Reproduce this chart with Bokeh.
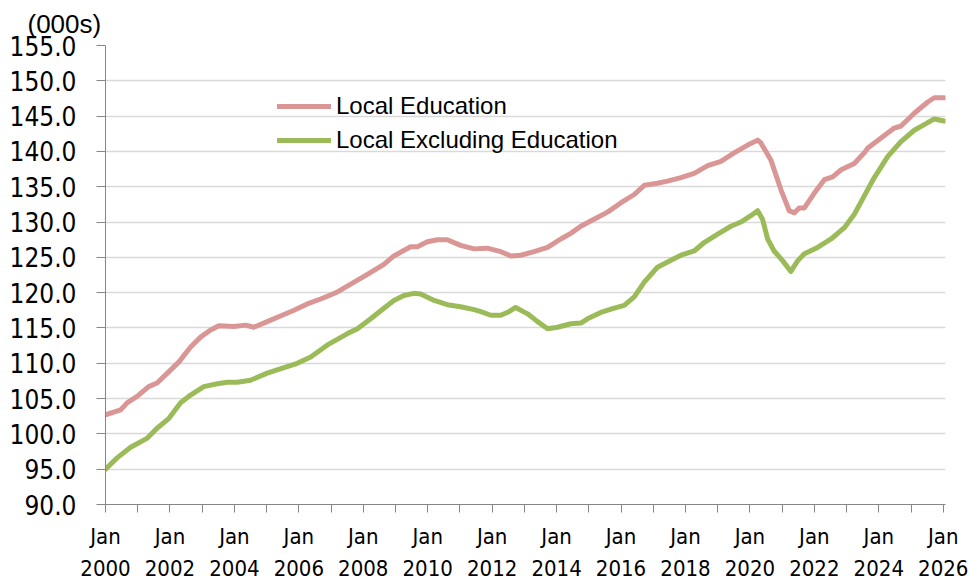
from bokeh.plotting import figure
from bokeh.models import (FixedTicker, Range1d, Legend, LegendItem, Title,
                          PrintfTickFormatter)
from bokeh.embed import file_html
from bokeh.resources import INLINE

# ---- data (decimal years, thousands) ----
edu_years = [2000.0, 2000.47, 2000.67, 2000.98, 2001.34, 2001.6, 2001.92, 2002.28, 2002.64, 2002.95,
             2003.26, 2003.52, 2003.98, 2004.35, 2004.6, 2005.02, 2005.43, 2005.85, 2006.26, 2006.68,
             2007.2, 2007.61, 2008.13, 2008.64, 2008.95, 2009.47, 2009.68, 2009.99, 2010.3, 2010.61,
             2011.02, 2011.44, 2011.85, 2012.27, 2012.58, 2012.89, 2013.3, 2013.72, 2014.13, 2014.44,
             2014.75, 2015.16, 2015.58, 2015.99, 2016.41, 2016.72, 2017.13, 2017.44, 2017.86, 2018.27,
             2018.69, 2019.1, 2019.51, 2019.93, 2020.24, 2020.34, 2020.65, 2020.96, 2021.22, 2021.38,
             2021.53, 2021.69, 2022.0, 2022.31, 2022.57, 2022.83, 2023.24, 2023.55, 2023.66, 2024.07,
             2024.48, 2024.69, 2025.1, 2025.52, 2025.72, 2026.03]
edu_values = [102.7, 103.4, 104.4, 105.3, 106.7, 107.2, 108.6, 110.2, 112.3, 113.7,
              114.7, 115.3, 115.2, 115.4, 115.1, 115.9, 116.7, 117.5, 118.4, 119.1,
              120.1, 121.2, 122.6, 124.0, 125.2, 126.5, 126.5, 127.2, 127.5, 127.5,
              126.7, 126.2, 126.3, 125.8, 125.2, 125.3, 125.8, 126.4, 127.6, 128.4,
              129.4, 130.4, 131.4, 132.7, 133.9, 135.2, 135.5, 135.8, 136.3, 136.9,
              138.0, 138.6, 139.8, 140.9, 141.6, 141.2, 138.8, 134.6, 131.6, 131.3,
              132.0, 132.0, 134.1, 136.0, 136.4, 137.4, 138.3, 139.8, 140.5, 141.9,
              143.3, 143.6, 145.4, 147.0, 147.6, 147.6]

exedu_years = [2000.0, 2000.36, 2000.78, 2001.3, 2001.6, 2001.97, 2002.33, 2002.64, 2003.05, 2003.47,
               2003.78, 2004.09, 2004.5, 2005.02, 2005.54, 2005.95, 2006.37, 2006.89, 2007.51, 2007.82,
               2008.23, 2008.64, 2008.95, 2009.26, 2009.57, 2009.78, 2010.2, 2010.61, 2011.02, 2011.44,
               2011.65, 2011.96, 2012.27, 2012.52, 2012.73, 2013.1, 2013.41, 2013.72, 2014.03, 2014.44,
               2014.75, 2014.96, 2015.37, 2015.79, 2016.1, 2016.41, 2016.72, 2017.13, 2017.55, 2017.86,
               2018.27, 2018.58, 2019.0, 2019.41, 2019.72, 2020.03, 2020.24, 2020.39, 2020.55, 2020.75,
               2021.02, 2021.27, 2021.48, 2021.69, 2022.1, 2022.52, 2022.93, 2023.24, 2023.55, 2023.86,
               2024.28, 2024.69, 2025.1, 2025.41, 2025.72, 2026.03]
exedu_values = [95.0, 96.6, 98.1, 99.4, 100.8, 102.2, 104.4, 105.5, 106.7, 107.1,
                107.3, 107.3, 107.6, 108.6, 109.4, 110.0, 110.9, 112.6, 114.2, 114.9,
                116.3, 117.8, 118.9, 119.6, 119.9, 119.8, 118.9, 118.3, 118.0, 117.6,
                117.3, 116.8, 116.8, 117.3, 117.9, 117.0, 115.9, 114.9, 115.1, 115.6,
                115.7, 116.3, 117.2, 117.8, 118.2, 119.4, 121.5, 123.6, 124.6, 125.3,
                125.9, 127.1, 128.3, 129.4, 130.0, 130.9, 131.6, 130.4, 127.6, 125.9,
                124.5, 123.0, 124.5, 125.5, 126.4, 127.6, 129.2, 131.1, 133.7, 136.3,
                139.3, 141.4, 143.0, 143.8, 144.6, 144.3]

y_ticks = [90, 95, 100, 105, 110, 115, 120, 125, 130, 135, 140, 145, 150, 155]
x_ticks = list(range(2000, 2027))
x_labelled = list(range(2000, 2027, 2))
series_names = ["Local Education", "Local Excluding Education"]
unit_label = "(000s)"

PINK = "#D99694"
GREEN = "#9BBB59"
NARROW = "'DejaVu Sans Condensed', sans-serif"
REG = "Liberation Sans"

p = figure(width=969, height=584, output_backend="svg", toolbar_location=None,
           x_range=Range1d(2000, 2026.07), y_range=Range1d(90, 155),
           min_border_left=105, min_border_right=24, min_border_top=45, min_border_bottom=77)
p.outline_line_color = None
p.background_fill_color = "white"
p.border_fill_color = "white"

p.xgrid.visible = False
p.ygrid.grid_line_color = "#D9D9D9"
p.ygrid.grid_line_width = 1.5
p.ygrid.ticker = FixedTicker(ticks=y_ticks)

ya = p.yaxis[0]
ya.ticker = FixedTicker(ticks=y_ticks)
ya.formatter = PrintfTickFormatter(format="%.1f")
ya.major_label_text_font = NARROW
ya.major_label_text_font_size = "26px"
ya.major_label_text_color = "black"
ya.major_tick_out = 9
ya.major_tick_in = 0
ya.minor_tick_out = 0
ya.minor_tick_in = 0
ya.axis_line_color = "#868686"
ya.major_tick_line_color = "#868686"
ya.major_label_standoff = 20

xa = p.xaxis[0]
xa.ticker = FixedTicker(ticks=x_ticks)
xa.major_label_overrides = {y: (f"Jan\n{y}" if y in x_labelled else "") for y in x_ticks}
xa.major_label_text_font = NARROW
xa.major_label_text_font_size = "22px"
xa.major_label_text_line_height = 1.3
xa.major_label_text_color = "black"
xa.major_tick_out = 8
xa.major_tick_in = 0
xa.minor_tick_out = 0
xa.minor_tick_in = 0
xa.axis_line_color = "#868686"
xa.major_tick_line_color = "#868686"
xa.major_label_standoff = 11

r1 = p.line(edu_years, edu_values, line_color=PINK, line_width=5,
            line_join="round", line_cap="round")
r2 = p.line(exedu_years, exedu_values, line_color=GREEN, line_width=5,
            line_join="round", line_cap="round")

legend = Legend(items=[LegendItem(label=series_names[0], renderers=[r1]),
                       LegendItem(label=series_names[1], renderers=[r2])],
                location=(172, 347), background_fill_alpha=0, border_line_color=None,
                label_text_font=REG, label_text_font_size="24px", label_text_color="black",
                glyph_width=54, glyph_height=34, label_height=34, spacing=0,
                padding=0, margin=0, label_standoff=5)
p.add_layout(legend)

p.add_layout(Title(text=unit_label, align="left", offset=-78, standoff=13,
                   text_font=REG, text_font_size="26px", text_color="black",
                   text_font_style="normal"), "above")

open("out.html", "w").write(file_html(p, INLINE))
